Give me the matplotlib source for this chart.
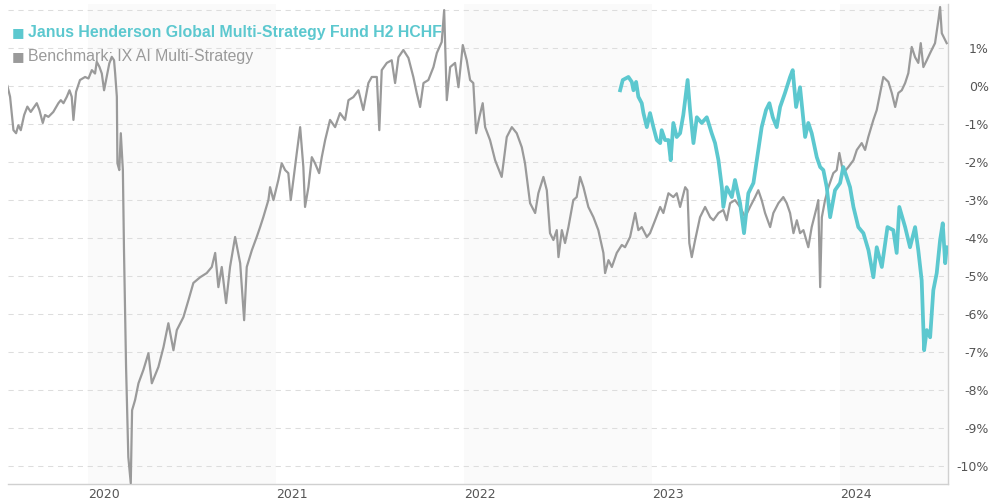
import matplotlib.pyplot as plt

# Benchmark: IX AI Multi-Strategy (decimal year, % performance)
bench_t = [
    2019.571, 2019.585, 2019.603, 2019.617, 2019.629, 2019.642, 2019.660, 2019.677,
    2019.695, 2019.709, 2019.727, 2019.741, 2019.759, 2019.771, 2019.789, 2019.815,
    2019.842, 2019.855, 2019.869, 2019.887, 2019.901, 2019.913, 2019.922, 2019.936,
    2019.957, 2019.984, 2020.002, 2020.020, 2020.037, 2020.046, 2020.060, 2020.073,
    2020.085, 2020.099, 2020.113, 2020.126, 2020.138, 2020.144, 2020.153, 2020.156,
    2020.166, 2020.174, 2020.185, 2020.191, 2020.202, 2020.214, 2020.227, 2020.234,
    2020.250, 2020.268, 2020.294, 2020.321, 2020.339, 2020.374, 2020.401, 2020.427,
    2020.454, 2020.472, 2020.507, 2020.534, 2020.560, 2020.596, 2020.631, 2020.658,
    2020.676, 2020.693, 2020.711, 2020.734, 2020.755, 2020.782, 2020.809, 2020.830,
    2020.844, 2020.871, 2020.897, 2020.915, 2020.932, 2020.959, 2020.968, 2020.986,
    2021.012, 2021.030, 2021.048, 2021.065, 2021.078, 2021.092, 2021.110, 2021.128,
    2021.145, 2021.154, 2021.172, 2021.190, 2021.207, 2021.229, 2021.243, 2021.261,
    2021.287, 2021.314, 2021.340, 2021.367, 2021.385, 2021.411, 2021.438, 2021.464,
    2021.491, 2021.509, 2021.536, 2021.549, 2021.562, 2021.589, 2021.615, 2021.633,
    2021.651, 2021.677, 2021.704, 2021.730, 2021.748, 2021.766, 2021.784, 2021.810,
    2021.837, 2021.855, 2021.881, 2021.894, 2021.908, 2021.926, 2021.952, 2021.970,
    2021.993, 2022.014, 2022.032, 2022.049, 2022.064, 2022.081, 2022.099, 2022.112,
    2022.138, 2022.165, 2022.200, 2022.227, 2022.254, 2022.280, 2022.307, 2022.324,
    2022.351, 2022.378, 2022.395, 2022.422, 2022.440, 2022.457, 2022.475, 2022.493,
    2022.502, 2022.520, 2022.537, 2022.555, 2022.581, 2022.599, 2022.617, 2022.635,
    2022.661, 2022.688, 2022.714, 2022.741, 2022.750, 2022.768, 2022.786, 2022.812,
    2022.839, 2022.856, 2022.883, 2022.910, 2022.927, 2022.945, 2022.972, 2022.989,
    2023.016, 2023.043, 2023.060, 2023.087, 2023.113, 2023.131, 2023.149, 2023.176,
    2023.188, 2023.198, 2023.211, 2023.229, 2023.255, 2023.282, 2023.309, 2023.326,
    2023.353, 2023.379, 2023.397, 2023.415, 2023.441, 2023.468, 2023.495, 2023.521,
    2023.548, 2023.565, 2023.583, 2023.601, 2023.628, 2023.645, 2023.672, 2023.698,
    2023.716, 2023.734, 2023.752, 2023.770, 2023.787, 2023.805, 2023.831, 2023.849,
    2023.876, 2023.884, 2023.894, 2023.903, 2023.920, 2023.938, 2023.964, 2023.982,
    2023.996, 2024.017, 2024.044, 2024.071, 2024.089, 2024.115, 2024.133, 2024.150,
    2024.177, 2024.195, 2024.213, 2024.230, 2024.257, 2024.275, 2024.293, 2024.310,
    2024.328, 2024.346, 2024.363, 2024.381, 2024.399, 2024.416, 2024.429, 2024.443,
    2024.461, 2024.479, 2024.505, 2024.523, 2024.532, 2024.541, 2024.559, 2024.567,
]
bench_v = [
    0.00, -0.28, -1.16, -1.24, -1.03, -1.16, -0.76, -0.54,
    -0.68, -0.58, -0.45, -0.63, -0.97, -0.76, -0.81, -0.68,
    -0.45, -0.37, -0.45, -0.28, -0.11, -0.28, -0.89, -0.15,
    0.16, 0.24, 0.20, 0.42, 0.33, 0.64, 0.51, 0.33,
    -0.11, 0.24, 0.60, 0.77, 0.68, 0.33, -0.28, -2.03,
    -2.21, -1.24, -2.21, -4.32, -7.39, -9.76, -10.45, -8.53,
    -8.26, -7.82, -7.47, -7.03, -7.82, -7.39, -6.87, -6.24,
    -6.95, -6.42, -6.08, -5.63, -5.18, -5.03, -4.92, -4.76,
    -4.39, -5.29, -4.76, -5.71, -4.76, -3.97, -4.66, -6.16,
    -4.76, -4.32, -3.97, -3.71, -3.45, -3.00, -2.66, -3.00,
    -2.47, -2.03, -2.21, -2.29, -3.00, -2.47, -1.76, -1.08,
    -2.13, -3.18, -2.66, -1.87, -2.03, -2.29, -1.87, -1.42,
    -0.89, -1.08, -0.71, -0.89, -0.37, -0.29, -0.11, -0.63,
    0.08, 0.24, 0.24, -1.16, 0.42, 0.61, 0.68, 0.08,
    0.76, 0.95, 0.74, 0.24, -0.18, -0.55, 0.08, 0.16,
    0.50, 0.87, 1.16, 2.00, -0.37, 0.50, 0.61, -0.03,
    1.08, 0.68, 0.16, 0.08, -1.24, -0.82, -0.45, -1.08,
    -1.42, -1.95, -2.39, -1.34, -1.08, -1.24, -1.61, -2.03,
    -3.08, -3.34, -2.82, -2.39, -2.74, -3.87, -4.05, -3.79,
    -4.50, -3.79, -4.13, -3.71, -3.00, -2.92, -2.39, -2.66,
    -3.18, -3.45, -3.79, -4.39, -4.92, -4.58, -4.76, -4.39,
    -4.18, -4.24, -3.97, -3.34, -3.79, -3.71, -3.97, -3.87,
    -3.53, -3.18, -3.34, -2.82, -2.92, -2.82, -3.18, -2.66,
    -2.74, -4.13, -4.50, -4.05, -3.45, -3.18, -3.45, -3.53,
    -3.34, -3.26, -3.53, -3.08, -3.00, -3.18, -3.45, -3.18,
    -2.92, -2.74, -3.00, -3.34, -3.71, -3.34, -3.08, -2.92,
    -3.08, -3.34, -3.87, -3.53, -3.87, -3.79, -4.24, -3.71,
    -3.18, -3.00, -5.29, -3.45, -3.00, -2.66, -2.29, -2.21,
    -1.76, -2.29, -2.13, -1.95, -1.68, -1.50, -1.68, -1.34,
    -0.89, -0.63, -0.18, 0.24, 0.11, -0.18, -0.55, -0.18,
    -0.11, 0.08, 0.34, 1.03, 0.76, 0.61, 1.13, 0.50,
    0.68, 0.87, 1.13, 1.74, 2.08, 1.39, 1.21, 1.13,
]

# Janus Henderson Global Multi-Strategy Fund H2 HCHF
fund_t = [
    2022.830, 2022.844, 2022.874, 2022.892, 2022.901, 2022.915, 2022.927, 2022.945,
    2022.954, 2022.972, 2022.989, 2023.007, 2023.025, 2023.043, 2023.051, 2023.069,
    2023.087, 2023.099, 2023.113, 2023.131, 2023.149, 2023.166, 2023.189, 2023.202,
    2023.220, 2023.238, 2023.264, 2023.291, 2023.317, 2023.335, 2023.353, 2023.371,
    2023.379, 2023.397, 2023.424, 2023.441, 2023.468, 2023.489, 2023.512, 2023.539,
    2023.565, 2023.583, 2023.606, 2023.624, 2023.642, 2023.663, 2023.681, 2023.707,
    2023.734, 2023.748, 2023.766, 2023.787, 2023.814, 2023.831, 2023.849, 2023.876,
    2023.894, 2023.911, 2023.929, 2023.947, 2023.973, 2024.000, 2024.017, 2024.035,
    2024.053, 2024.071, 2024.097, 2024.124, 2024.151, 2024.177, 2024.195, 2024.222,
    2024.252, 2024.283, 2024.301, 2024.315, 2024.346, 2024.372, 2024.399, 2024.416,
    2024.434, 2024.447, 2024.461, 2024.479, 2024.496, 2024.514, 2024.532, 2024.546,
    2024.559, 2024.567,
]
fund_v = [
    -0.11, 0.16, 0.24, 0.11, -0.11, 0.11, -0.28, -0.45,
    -0.71, -1.08, -0.71, -1.08, -1.42, -1.50, -1.16, -1.42,
    -1.42, -1.95, -0.97, -1.34, -1.24, -0.76, 0.16, -0.63,
    -1.50, -0.82, -0.97, -0.82, -1.24, -1.50, -1.95, -2.66,
    -3.18, -2.66, -2.92, -2.47, -3.08, -3.87, -2.82, -2.55,
    -1.68, -1.08, -0.63, -0.45, -0.82, -1.08, -0.55, -0.18,
    0.24, 0.42, -0.55, -0.03, -1.34, -0.97, -1.24, -1.87,
    -2.13, -2.21, -2.66, -3.45, -2.74, -2.55, -2.13, -2.39,
    -2.66, -3.18, -3.71, -3.87, -4.32, -5.03, -4.24, -4.76,
    -3.71, -3.79, -4.39, -3.18, -3.71, -4.24, -3.71, -4.32,
    -5.11, -6.95, -6.42, -6.61, -5.37, -4.92, -4.05, -3.61,
    -4.66, -4.24,
]

years = [2020, 2021, 2022, 2023, 2024]
grid_levels = list(range(2, -11, -1))
pct_ticks = list(range(1, -11, -1))
fund_name = "Janus Henderson Global Multi-Strategy Fund H2 HCHF"
bench_name = "Benchmark: IX AI Multi-Strategy"

teal = "#5cc8cf"
grey = "#9a9a9a"

fig = plt.figure(figsize=(9.9, 5.03), dpi=100)
ax = fig.add_axes([8 / 990, 19 / 503, 940 / 990, 480 / 503])
ax.set_xlim(2019.574, 2024.574)
ax.set_ylim(-10.47, 2.16)

# alternating year bands
for y in years[::2]:
    ax.axvspan(y, y + 1, color="#fafafa", lw=0, zorder=0)

for v in grid_levels:
    ax.axhline(v, color="#dddddd", lw=0.75, dashes=(5, 4.5), zorder=1)

ax.plot(bench_t, bench_v, color=grey, lw=1.6, zorder=4)
ax.plot(fund_t, fund_v, color=teal, lw=2.7, zorder=5)

# legend
fig.text(12 / 990, 1 - 33 / 503, "\u25a0", color=teal, fontsize=9.5, va="center", zorder=3)
fig.text(28 / 990, 1 - 32 / 503, fund_name, color=teal, fontsize=11.4, fontweight="bold",
         family="Liberation Sans", va="center", zorder=3)
fig.text(12 / 990, 1 - 57 / 503, "\u25a0", color=grey, fontsize=9.5, va="center", zorder=3)
fig.text(28 / 990, 1 - 56 / 503, bench_name, color=grey, fontsize=11.4,
         family="Liberation Sans", va="center", zorder=3)

for s in ["top", "left"]:
    ax.spines[s].set_visible(False)
for s in ["bottom", "right"]:
    ax.spines[s].set_color("#d0d0d0")
    ax.spines[s].set_linewidth(1)

ax.set_xticks(years)
ax.set_xticklabels([str(y) for y in years], color="#555555", fontsize=9, ha="left")
ax.tick_params(axis="x", length=0, pad=3)

ax.yaxis.tick_right()
ax.set_yticks(pct_ticks)
ax.set_yticklabels([f"{v}%" for v in pct_ticks], color="#555555", fontsize=9, ha="right")
ax.tick_params(axis="y", length=0, pad=29.5)

fig.savefig("out.png", dpi=100)
